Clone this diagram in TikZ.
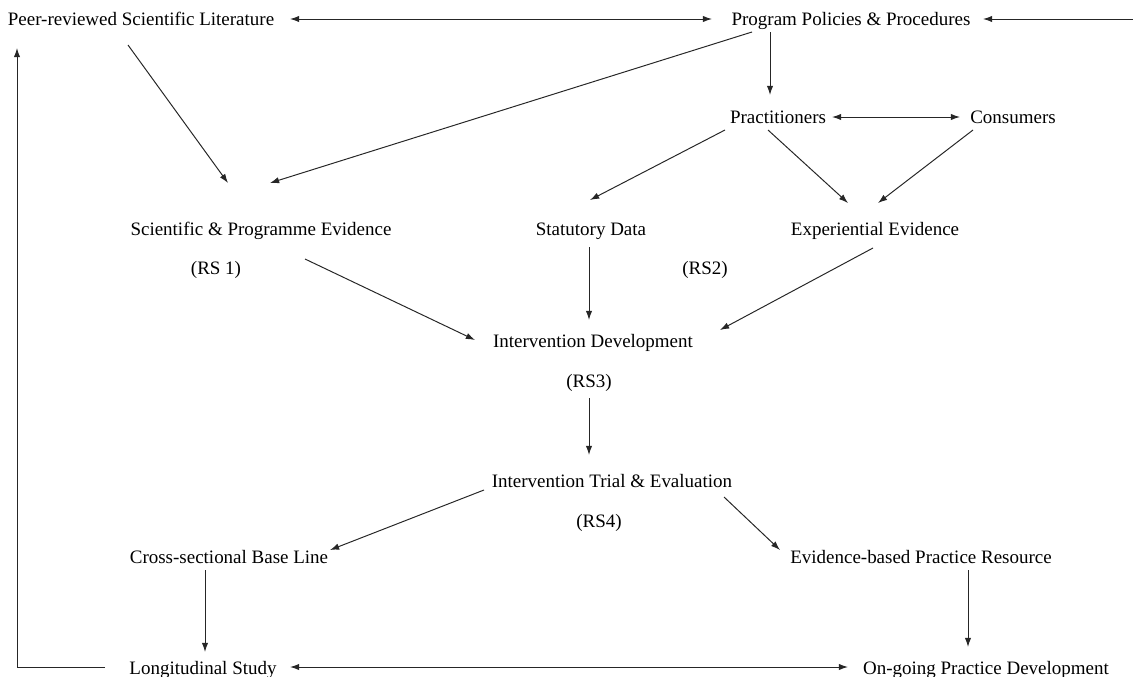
\documentclass[tikz,border=0pt]{standalone}
\usepackage{fontspec}
\setmainfont{Liberation Serif}
\usepackage{tikz}
\usetikzlibrary{calc}
\usetikzlibrary{arrows.meta}
\tikzstyle{textnode} = [inner sep=2pt, text height=12.5pt, text depth=1.5pt, align=center, font=\fontsize{13.5}{16}\selectfont]
\tikzstyle{rsnode} = [textnode]
\tikzstyle{conn} = [line width=0.7pt, draw=black!85]
\tikzstyle{arr} = [conn, -{Latex[length=6.5pt,width=4.5pt]}]
\tikzstyle{biarr} = [conn, {Latex[length=6.5pt,width=4.5pt]}-{Latex[length=6.5pt,width=4.5pt]}]

\begin{document}
\begin{tikzpicture}[x=0.025cm, y=-0.025cm]
\useasboundingbox (0,0) rectangle (1133,677);
\node[textnode] (lit) at (141,18) {Peer-reviewed Scientific Literature};
\node[textnode] (ppp) at (851,18) {Program Policies \& Procedures};
\coordinate (rin) at (1133,19);
\node[textnode] (prac) at (778,116) {Practitioners};
\node[textnode] (cons) at (1013,116) {Consumers};

\node[textnode] (sci) at (261,228) {Scientific \& Programme Evidence};
\node[rsnode] (rs1) at ($(sci)+(-45,39)$) {(RS 1)};
\node[textnode] (stat) at (591,228) {Statutory Data};
\node[rsnode] (rs2) at ($(stat)+(114,39)$) {(RS2)};
\node[textnode] (exp) at (875,228) {Experiential Evidence};

\node[textnode] (idev) at (593,340) {Intervention Development};
\node[rsnode] (rs3) at ($(idev)+(-4,40)$) {(RS3)};
\node[textnode] (trial) at (612,480) {Intervention Trial \& Evaluation};
\node[rsnode] (rs4) at ($(trial)+(-13,40)$) {(RS4)};

\node[textnode] (cross) at (229,556) {Cross-sectional Base Line};
\node[textnode] (ebpr) at (921,556) {Evidence-based Practice Resource};
\node[textnode] (long) at (203,667) {Longitudinal Study};
\node[textnode] (ongo) at (986,667) {On-going Practice Development};

% top row
\draw[biarr] ($(lit)+(149,1)$) -- ($(ppp)+(-139,1)$);
\draw[arr] (rin) -- ($(ppp)+(132,1)$);
\draw[arr] ($(ppp)+(-81,14)$) -- ($(prac)+(-8,-21)$);
\draw[biarr] ($(prac)+(54,1)$) -- ($(cons)+(-53,1)$);

% into the evidence row
\draw[arr] ($(lit)+(-13,27)$) -- ($(sci)+(-33,-45)$);
\draw[arr] ($(ppp)+(-99,14)$) -- ($(sci)+(9,-45)$);
\draw[arr] ($(prac)+(-53,14)$) -- ($(stat)+(-1,-28)$);
\draw[arr] ($(prac)+(-10,14)$) -- ($(exp)+(-27,-25)$);
\draw[arr] ($(cons)+(-40,14)$) -- ($(exp)+(3,-25)$);

% development and trial
\draw[arr] ($(sci)+(44,31)$) -- ($(idev)+(-118,0)$);
\draw[arr] ($(stat)+(-2,19)$) -- ($(idev)+(-4,-20)$);
\draw[arr] ($(exp)+(-2,20)$) -- ($(idev)+(127,-10)$);
\draw[arr] ($(rs3)+(0,18)$) -- ($(trial)+(-23,-25)$);
\draw[arr] ($(trial)+(-128,10)$) -- ($(cross)+(101,-6)$);
\draw[arr] ($(trial)+(112,17)$) -- ($(ebpr)+(-141,-6)$);

% bottom
\draw[arr] ($(cross)+(-24,14)$) -- ($(long)+(2,-15)$);
\draw[arr] ($(ebpr)+(47,14)$) -- ($(ongo)+(-18,-20)$);
\draw[biarr] ($(long)+(87,0)$) -- ($(ongo)+(-138,0)$);
\draw[arr] ($(long)+(-98,0)$) -| ($(lit)+(-124,30)$);
\end{tikzpicture}
\end{document}
